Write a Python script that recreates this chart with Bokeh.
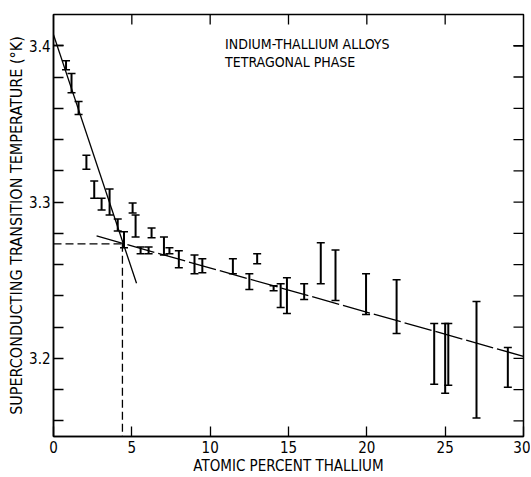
import math
from bokeh.plotting import figure
from bokeh.models import (ColumnDataSource, Whisker, TeeHead, FixedTicker, Range1d, Label)
from bokeh.embed import file_html
from bokeh.resources import INLINE

# ---- data ----
x_pct = [0.8, 1.15, 1.6, 2.1, 2.6, 3.07, 3.58, 4.1, 4.5, 5.05, 5.24, 5.56, 6.07, 6.26,
         7.05, 7.4, 8.0, 9.0, 9.5, 11.45, 12.5, 13.0, 14.05, 14.5, 14.9, 16.0, 17.06,
         18.0, 19.95, 21.9, 24.3, 25.0, 25.2, 27.0, 29.0]
t_upper = [3.3904, 3.3822, 3.3643, 3.330, 3.3134, 3.3025, 3.3083, 3.2892, 3.281, 3.2994,
           3.2917, 3.2713, 3.2713, 3.2834, 3.2777, 3.2707, 3.2688, 3.2662, 3.2637, 3.2637,
           3.2541, 3.2669, 3.2465, 3.2478, 3.2516, 3.2478, 3.2739, 3.2694, 3.2541, 3.2503,
           3.2223, 3.2223, 3.2223, 3.2363, 3.207]
t_lower = [3.3847, 3.370, 3.356, 3.321, 3.3025, 3.2949, 3.2917, 3.2815, 3.2707, 3.293,
           3.2777, 3.2669, 3.2669, 3.2771, 3.2662, 3.2669, 3.258, 3.2541, 3.2548, 3.2541,
           3.244, 3.2605, 3.2433, 3.2325, 3.2287, 3.2376, 3.2478, 3.237, 3.228, 3.2159,
           3.1834, 3.1777, 3.1828, 3.1618, 3.1815]

steep_x = [0.0, 5.3]
steep_t = [3.407, 3.248]
shallow_x = [2.75, 30.0]
shallow_t = [3.2783, 3.2013]
tc_x = 4.4
tc_t = 3.2733

x_min, x_max = 0, 30
t_min, t_max = 3.15, 3.42
x_ticks = [0, 5, 10, 15, 20, 25, 30]
y_major = [3.2, 3.3, 3.4]
y_minor = [3.16, 3.18, 3.22, 3.24, 3.26, 3.28, 3.32, 3.34, 3.36, 3.38, 3.40]

title_lines = ["INDIUM-THALLIUM ALLOYS", "TETRAGONAL PHASE"]
x_label = "ATOMIC PERCENT THALLIUM"
y_label = "SUPERCONDUCTING TRANSITION TEMPERATURE (°K)"

FONT = "'Liberation Sans Narrow', 'DejaVu Sans Condensed', 'Liberation Sans', sans-serif"
TICK = 10

p = figure(width=530, height=477, output_backend="svg", toolbar_location=None,
           x_range=Range1d(x_min, x_max), y_range=Range1d(t_min, t_max),
           min_border_left=53, min_border_top=14, min_border_right=7, min_border_bottom=40)
p.xgrid.visible = False
p.ygrid.visible = False
p.outline_line_color = "black"
p.outline_line_width = 1.5
p.outline_line_alpha = 1.0
p.background_fill_color = "white"
p.border_fill_color = "white"

for ax in (p.xaxis[0], p.yaxis[0]):
    ax.axis_line_color = "black"
    ax.axis_line_width = 1.5
    ax.major_tick_in = TICK
    ax.major_tick_out = 0
    ax.minor_tick_in = TICK
    ax.minor_tick_out = 0
    ax.major_tick_line_width = 1.3
    ax.minor_tick_line_width = 1.3
    ax.major_tick_line_color = "black"
    ax.minor_tick_line_color = "black"
    ax.major_label_text_font = FONT
    ax.major_label_text_font_size = "15px"
    ax.major_label_text_color = "black"
    ax.axis_label_text_font = FONT
    ax.axis_label_text_font_style = "normal"
    ax.axis_label_text_color = "black"

p.xaxis.ticker = FixedTicker(ticks=x_ticks)
p.yaxis.ticker = FixedTicker(ticks=y_major, minor_ticks=y_minor)
p.xaxis.minor_tick_in = 0
p.xaxis.axis_label = x_label
p.yaxis.axis_label = y_label
p.xaxis.axis_label_text_font_size = "15px"
p.yaxis.axis_label_text_font_size = "16px"
p.xaxis.major_label_standoff = 4
p.yaxis.major_label_standoff = 3
p.xaxis.axis_label_standoff = 1
p.yaxis.axis_label_standoff = 0

# inward ticks on the top and right frame edges
p.ray(x=x_ticks[1:-1], y=[t_max] * (len(x_ticks) - 2), length=TICK, length_units="screen",
      angle=-math.pi / 2, line_color="black", line_width=1.3)
right_ticks = sorted(y_major + y_minor)
p.ray(x=[x_max] * len(right_ticks), y=right_ticks, length=TICK, length_units="screen",
      angle=math.pi, line_color="black", line_width=1.3)

# fit lines
p.line(steep_x, steep_t, line_color="black", line_width=1.3)
p.line(shallow_x, shallow_t, line_color="black", line_width=1.3, line_dash="28 4")
p.line([x_min, tc_x], [tc_t, tc_t], line_color="black", line_width=1.3, line_dash="8 4")
p.line([tc_x, tc_x], [tc_t, t_min], line_color="black", line_width=1.3, line_dash="8 4")

src = ColumnDataSource(dict(x=x_pct, upper=t_upper, lower=t_lower))
w = Whisker(source=src, base="x", upper="upper", lower="lower", dimension="height",
            line_color="black", line_width=2,
            upper_head=TeeHead(size=8, line_width=1.5, line_color="black"),
            lower_head=TeeHead(size=8, line_width=1.5, line_color="black"))
p.add_layout(w)

for txt, yv in zip(title_lines, [3.401, 3.3895]):
    p.add_layout(Label(x=10.95, y=yv, text=txt, text_font=FONT, text_font_size="14px",
                       text_color="black", text_baseline="alphabetic"))

open("out.html", "w").write(file_html(p, INLINE))
